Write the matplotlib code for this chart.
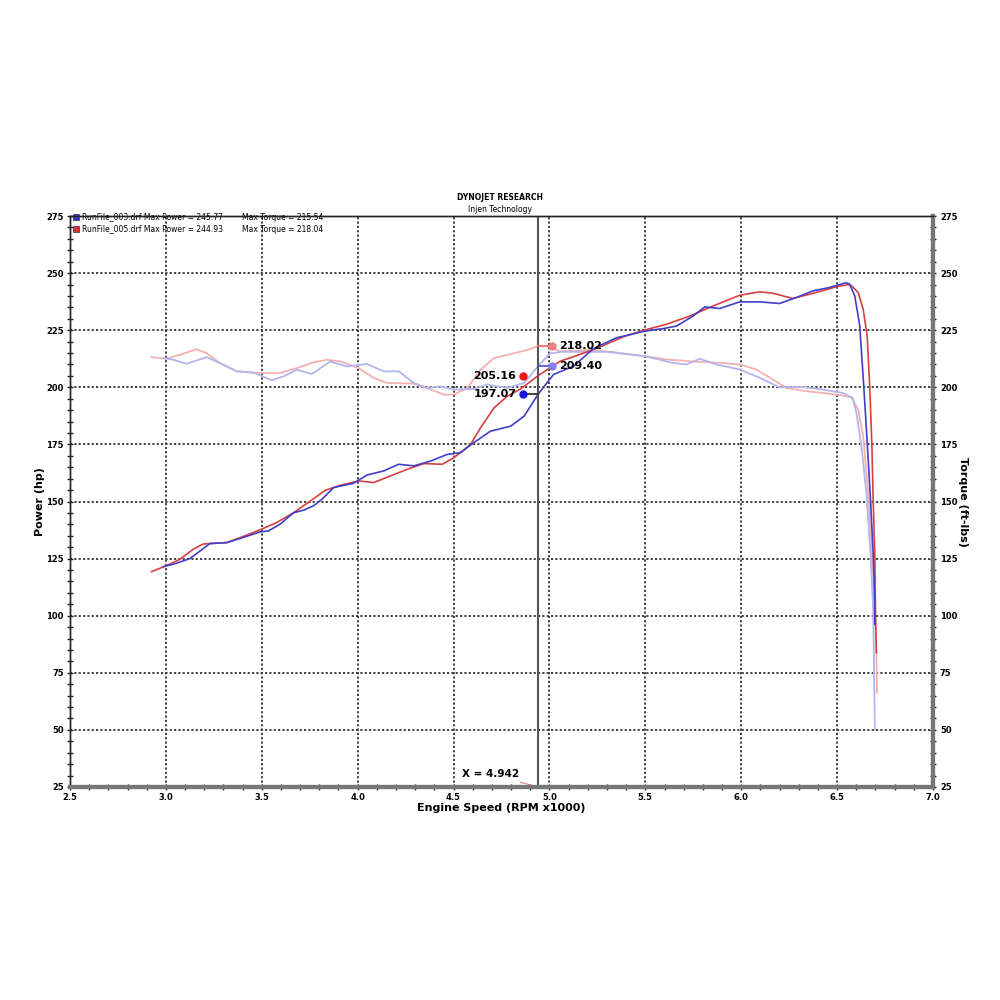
import matplotlib
matplotlib.use("Agg")
import matplotlib.pyplot as plt
from matplotlib.ticker import MultipleLocator
import numpy as np

# ---- data ----
rpm_pw_003 = [2.986, 3.038, 3.125, 3.230, 3.317, 3.387, 3.491, 3.535, 3.596, 3.666, 3.718, 3.770, 3.814, 3.875,
              3.979, 4.049, 4.136, 4.214, 4.293, 4.380, 4.467, 4.537, 4.606, 4.693, 4.798, 4.868, 4.942, 5.021,
              5.125, 5.229, 5.350, 5.498, 5.593, 5.662, 5.749, 5.810, 5.888, 5.992, 6.096, 6.200, 6.287, 6.373,
              6.460, 6.530, 6.549, 6.565, 6.592, 6.618, 6.639, 6.657, 6.674, 6.688, 6.695, 6.697]
pw_003 = [121.5, 122.5, 125.0, 131.6, 132.0, 133.8, 136.7, 137.1, 140.1, 145.1, 146.2, 148.1, 151.0, 156.1,
          158.0, 161.6, 163.4, 166.3, 165.6, 167.7, 170.6, 171.4, 175.8, 180.8, 183.0, 187.4, 197.07, 205.6,
          209.2, 216.9, 221.7, 224.6, 225.7, 226.8, 231.2, 235.2, 234.5, 237.4, 237.4, 236.7, 239.3, 242.2,
          243.7, 245.4, 245.77, 245.2, 240.0, 227.0, 200.4, 175.7, 151.0, 127.5, 110.0, 96.2]

rpm_pw_005 = [2.925, 3.000, 3.073, 3.143, 3.195, 3.317, 3.387, 3.491, 3.578, 3.666, 3.753, 3.831, 3.910, 4.005,
              4.084, 4.171, 4.258, 4.345, 4.441, 4.502, 4.589, 4.641, 4.711, 4.780, 4.850, 4.942, 5.055, 5.160,
              5.264, 5.385, 5.498, 5.610, 5.732, 5.853, 5.992, 6.096, 6.165, 6.269, 6.391, 6.500, 6.556, 6.575,
              6.610, 6.636, 6.657, 6.670, 6.681, 6.688, 6.697, 6.700, 6.705]
pw_005 = [119.3, 121.8, 124.7, 129.1, 131.4, 132.0, 134.2, 137.6, 140.8, 145.1, 150.2, 154.9, 157.1, 159.0,
          158.3, 161.2, 164.1, 166.6, 166.3, 169.2, 175.0, 182.3, 191.0, 196.1, 199.3, 205.16, 211.4, 214.4,
          217.7, 222.1, 225.1, 227.6, 231.2, 235.6, 240.3, 241.8, 241.2, 238.9, 241.5, 244.1, 244.93, 244.5,
          241.5, 234.2, 222.4, 200.4, 175.7, 151.0, 124.7, 101.3, 83.8]

rpm_tq_003 = [2.986, 3.038, 3.108, 3.213, 3.282, 3.369, 3.456, 3.552, 3.613, 3.683, 3.761, 3.857, 3.944, 4.049,
              4.136, 4.214, 4.293, 4.363, 4.432, 4.502, 4.606, 4.676, 4.780, 4.868, 4.942, 5.003, 5.060, 5.125,
              5.298, 5.498, 5.645, 5.714, 5.784, 5.870, 5.992, 6.096, 6.200, 6.321, 6.426, 6.530, 6.566, 6.582,
              6.601, 6.627, 6.653, 6.674, 6.688, 6.697]
tq_003 = [212.8, 212.1, 210.3, 213.2, 210.6, 207.0, 206.5, 203.1, 204.8, 207.7, 205.8, 211.3, 209.1, 210.2,
          207.0, 207.0, 201.9, 199.7, 200.4, 199.0, 199.3, 201.2, 199.7, 201.9, 209.40, 214.8, 215.54, 215.5,
          215.5, 213.6, 210.7, 210.0, 212.5, 210.0, 207.8, 204.2, 200.0, 200.1, 199.0, 197.5, 196.0, 195.3,
          188.7, 174.1, 153.6, 127.4, 102.7, 50.0]

rpm_tq_005 = [2.925, 3.000, 3.073, 3.160, 3.213, 3.282, 3.369, 3.456, 3.596, 3.683, 3.770, 3.840, 3.910, 4.005,
              4.084, 4.153, 4.293, 4.380, 4.450, 4.502, 4.572, 4.641, 4.711, 4.815, 4.885, 4.942, 4.990, 5.055,
              5.212, 5.333, 5.498, 5.610, 5.732, 5.888, 5.992, 6.079, 6.165, 6.235, 6.339, 6.460, 6.530, 6.575,
              6.610, 6.636, 6.662, 6.684, 6.697, 6.705, 6.708]
tq_005 = [213.2, 212.5, 214.2, 216.7, 214.9, 210.6, 207.0, 206.3, 206.3, 208.4, 210.9, 212.1, 211.3, 208.4,
          204.1, 201.9, 201.6, 199.0, 196.8, 196.8, 199.7, 207.7, 212.8, 214.9, 216.4, 218.02, 218.04, 215.8,
          216.3, 215.4, 213.6, 212.2, 211.4, 210.7, 210.0, 207.8, 203.4, 199.7, 198.3, 197.2, 196.4, 195.5,
          190.2, 178.5, 153.8, 124.7, 102.7, 81.6, 66.2]

cursor_x = 4.942
cursor_power = {"003": 197.07, "005": 205.16}
cursor_torque = {"003": 209.40, "005": 218.02}
legend_lines = ["RunFile_003.drf Max Power = 245.77     Max Torque = 215.54",
                "RunFile_005.drf Max Power = 244.93     Max Torque = 218.04"]

# ---- colours ----
c_pw3 = "#4040c8"
c_pw5 = "#d84040"
c_tq3 = "#b4b4ee"
c_tq5 = "#f4b0b0"

fig = plt.figure(figsize=(10, 10), dpi=100)
ax = fig.add_axes([0.070, 0.213, 0.863, 0.571])
ax.set_xlim(2.5, 7.0)
ax.set_ylim(25, 275)

ax.plot(rpm_tq_005, tq_005, color=c_tq5, lw=1.3, zorder=3)
ax.plot(rpm_tq_003, tq_003, color=c_tq3, lw=1.3, zorder=3)
ax.plot(rpm_pw_005, pw_005, color=c_pw5, lw=1.2, zorder=4)
ax.plot(rpm_pw_003, pw_003, color=c_pw3, lw=1.2, zorder=4)

# grid
ax.xaxis.set_major_locator(MultipleLocator(0.5))
ax.xaxis.set_minor_locator(MultipleLocator(0.1))
ax.yaxis.set_major_locator(MultipleLocator(25))
ax.yaxis.set_minor_locator(MultipleLocator(5))
ax.grid(True, which="major", color="#333333", linestyle=(0, (1.2, 1.2)), linewidth=1.3, zorder=1)

ax.tick_params(which="both", direction="inout", length=5, width=1.0, color="#222222",
               labelsize=6, pad=2)
ax.tick_params(axis="x", which="both", pad=1.5)
for lab in ax.get_xticklabels() + ax.get_yticklabels():
    lab.set_fontweight("bold")

# right axis
ax2 = ax.twinx()
ax2.set_ylim(25, 275)
ax2.yaxis.set_major_locator(MultipleLocator(25))
ax2.yaxis.set_minor_locator(MultipleLocator(5))
ax2.tick_params(which="both", direction="inout", length=5, width=1.0, color="#222222",
                labelsize=6, pad=2.5)
for lab in ax2.get_yticklabels():
    lab.set_fontweight("bold")

for a in (ax, ax2):
    a.spines["left"].set_color("#222222")
    a.spines["left"].set_linewidth(1.0)
    a.spines["top"].set_color("#222222")
    a.spines["top"].set_linewidth(1.0)
    a.spines["right"].set_color("#777777")
    a.spines["right"].set_linewidth(3.0)
    a.spines["bottom"].set_color("#777777")
    a.spines["bottom"].set_linewidth(3.0)

ax.set_xticks(np.arange(2.5, 7.01, 0.5))
ax.set_xticklabels([f"{v:.1f}" for v in np.arange(2.5, 7.01, 0.5)], fontsize=6, fontweight="bold")

ax.set_xlabel("Engine Speed (RPM x1000)", fontsize=8, fontweight="bold", va="center")
ax.xaxis.set_label_coords(0.5, -0.0375)
ax.set_ylabel("Power (hp)", fontsize=8, fontweight="bold", va="center")
ax.yaxis.set_label_coords(-0.0345, 0.5)
ax2.set_ylabel("Torque (ft-lbs)", fontsize=8, fontweight="bold", rotation=270, va="center")
ax2.yaxis.set_label_coords(1.0345, 0.5)

# cursor
ax.axvline(cursor_x, color="#555555", lw=1.5, zorder=5)

# cursor markers
dx = 0.07
ax.plot([cursor_x - dx - 0.01, cursor_x], [cursor_power["003"]] * 2, color="#333333", lw=1.3, zorder=6)
ax.plot(cursor_x - dx - 0.01, cursor_power["003"], "o", color="#1515e0", ms=5, zorder=7)
ax.plot(cursor_x - dx - 0.01, cursor_power["005"], "o", color="#ee1515", ms=5, zorder=7)
ax.plot([cursor_x, cursor_x + dx], [cursor_torque["003"]] * 2, color="#5555dd", lw=1.3, zorder=6)
ax.plot(cursor_x + dx, cursor_torque["003"], "o", color="#8080f0", ms=5, zorder=7)
ax.plot([cursor_x, cursor_x + dx], [cursor_torque["005"]] * 2, color="#f07070", lw=1.3, zorder=6)
ax.plot(cursor_x + dx, cursor_torque["005"], "o", color="#f08080", ms=5, zorder=7)

lab_kw = dict(fontsize=8, fontweight="bold", va="center", zorder=8)
ax.text(cursor_x - dx - 0.045, cursor_power["003"], f"{cursor_power['003']:.2f}", ha="right", **lab_kw)
ax.text(cursor_x - dx - 0.045, cursor_power["005"], f"{cursor_power['005']:.2f}", ha="right", **lab_kw)
ax.text(cursor_x + dx + 0.04, cursor_torque["003"], f"{cursor_torque['003']:.2f}", ha="left", **lab_kw)
ax.text(cursor_x + dx + 0.04, cursor_torque["005"], f"{cursor_torque['005']:.2f}", ha="left", **lab_kw)

# X = annotation
ax.annotate(f"X = {cursor_x:.3f}", xy=(cursor_x, 25), xytext=(4.695, 30.5), ha="center", va="center",
            fontsize=7.5, fontweight="bold",
            arrowprops=dict(arrowstyle="-", color="#f08080", lw=0.8, shrinkA=0, shrinkB=0))

# legend (text with colour boxes)
for i, (txt, col) in enumerate(zip(legend_lines, ["#3030e0", "#e03030"])):
    yy = 274.5 - i * 5.2
    ax.plot(2.53, yy, "s", color=col, ms=5, mec="#333333", mew=0.5, zorder=9, clip_on=False)
    ax.text(2.56, yy, txt.replace("     ", "        "), fontsize=5.5, va="center", ha="left", zorder=9)

fig.text(0.5, 0.803, "DYNOJET RESEARCH", ha="center", va="center", fontsize=5.5, fontweight="bold")
fig.text(0.5, 0.791, "Injen Technology", ha="center", va="center", fontsize=5.5)

fig.savefig("out.png", dpi=100)
